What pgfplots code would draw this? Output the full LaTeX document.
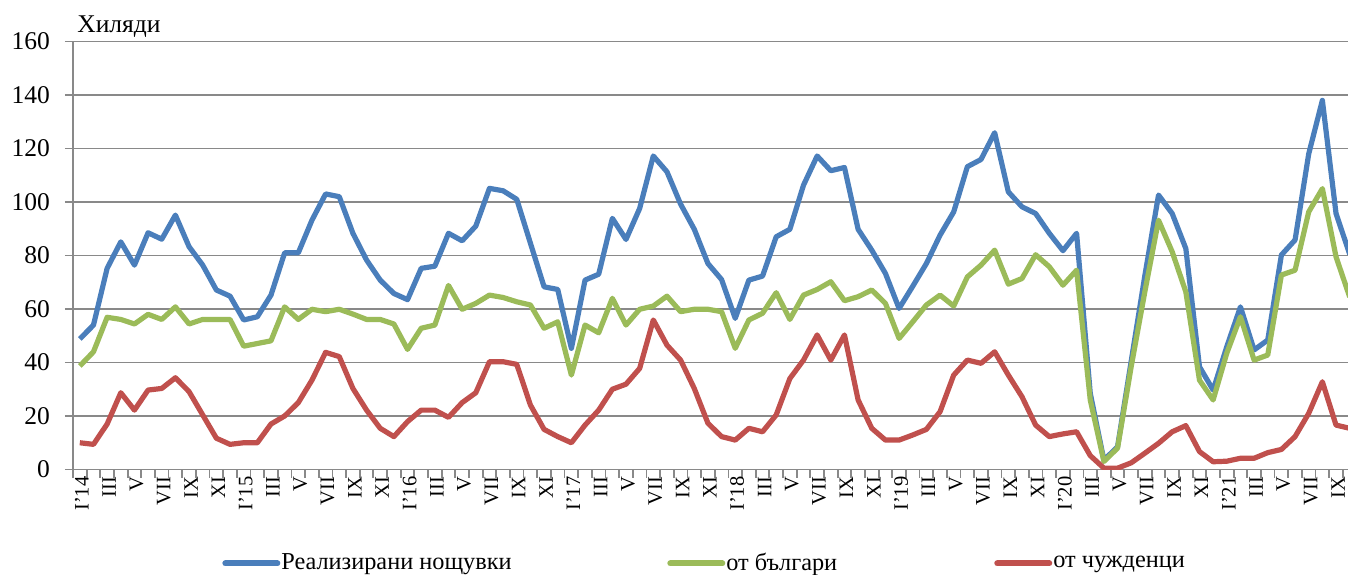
\documentclass[border=0pt]{standalone}
\usepackage{fontspec}
\setmainfont{Liberation Serif}
\usepackage{pgfplots}
\usepackage{pgfplotstable}
\pgfplotsset{compat=1.18}
\definecolor{cblue}{HTML}{4A7EBB}
\definecolor{cgreen}{HTML}{9BBB59}
\definecolor{cred}{HTML}{C0504D}
\definecolor{gridgray}{HTML}{898989}

\pgfplotstableread{
i total bg foreign
0 48.8 38.7 10
1 54 44 9.4
2 75.2 56.9 17
3 85.1 56.1 28.7
4 76.4 54.4 22.2
5 88.5 58 29.7
6 86.1 56.1 30.3
7 95.1 60.8 34.3
8 83.3 54.4 29.1
9 76.4 56.1 20.4
10 67.1 56.1 11.7
11 64.8 56.1 9.4
12 55.9 46.1 10
13 57.1 47.1 10
14 65.2 48.1 17
15 81 60.8 20
16 81 56.1 25
17 93.2 59.9 33.4
18 103 59 43.8
19 102 59.9 42.2
20 88.3 58.1 30.3
21 78.3 56.1 22.2
22 70.8 56.1 15.4
23 65.8 54.4 12.3
24 63.5 44.9 17.9
25 75.2 52.8 22.2
26 76 54 22.2
27 88.3 68.8 19.5
28 85.5 59.9 25
29 91 62.1 28.7
30 105.1 65.2 40.3
31 104.2 64.3 40.3
32 101 62.7 39.3
33 84.6 61.5 24.1
34 68.3 52.8 15
35 67.3 55.2 12.3
36 45.3 35.3 10
37 70.8 54 16.6
38 73 51.1 22.2
39 93.9 64 30
40 86 54 31.9
41 97.6 59.9 37.8
42 117.2 61.1 55.9
43 111.3 64.8 46.5
44 99.2 59 40.9
45 89.8 59.9 30.3
46 77 59.9 17.3
47 71 59 12.3
48 56.5 45.3 11
49 70.8 55.9 15.4
50 72.3 58.4 14.1
51 87 66.1 20.4
52 89.8 56.1 34
53 106.3 65.2 40.9
54 117.2 67.3 50.3
55 111.7 70.2 40.9
56 112.9 63.1 50.3
57 89.8 64.6 26
58 82 67.1 15.4
59 73.3 62.1 11
60 60.2 49 11
61 68.5 55.2 12.9
62 77 61.5 15
63 87.6 65.2 21.6
64 96.3 61.1 35.3
65 113.2 72 40.9
66 115.9 76.4 39.7
67 125.9 82 44
68 103.8 69.3 35.3
69 98.2 71.4 27.2
70 95.7 80.3 16.6
71 88.3 75.8 12.3
72 81.8 68.9 13.3
73 88.3 74.5 14.1
74 28.5 26 5.2
75 3.5 3 0.5
76 8.5 8 0.5
77 40.5 38.5 2.5
78 72.5 66.5 6.1
79 102.6 93.2 9.8
80 95.7 81.4 14.1
81 82.6 66.4 16.4
82 38.4 33.4 6.7
83 29.7 26 2.9
84 45.9 43.5 3.1
85 60.8 57.1 4.2
86 44.7 40.9 4.2
87 48.4 42.8 6.3
88 80.2 72.7 7.5
89 85.8 74.5 12.3
90 118 96.3 21
91 138 105 32.8
92 95.7 79.5 16.6
93 80.5 64.5 15.4
}\datatable

\begin{document}
\begin{tikzpicture}
\useasboundingbox (-36.5bp,-52.75bp) rectangle (637.5bp,234.75bp);
\begin{axis}[
  at={(0,0)}, anchor=south west,
  scale only axis, width=637.65bp, height=214bp,
  clip mode=individual,
  xmin=-0.5, xmax=92.9, ymin=0, ymax=160,
  axis x line*=bottom, axis y line*=left,
  axis line style={color=gridgray, line width=0.9bp},
  ytick={0,20,...,160},
  ymajorgrids,
  major grid style={color=gridgray, line width=0.9bp},
  tick align=outside,
  major tick length=4bp,
  minor tick length=3.5bp,
  tick style={color=gridgray, line width=0.9bp},
  xtick={-0.5,0.5,...,92.5},
  xticklabels={},
  extra x ticks={0,2,...,92},
  extra x tick labels={I'14,III,V,VII,IX,XI,I'15,III,V,VII,IX,XI,I'16,III,V,VII,IX,XI,I'17,III,V,VII,IX,XI,I'18,III,V,VII,IX,XI,I'19,III,V,VII,IX,XI,I'20,III,V,VII,IX,XI,I'21,III,V,VII,IX},
  extra x tick style={major tick length=0pt, grid=none},
  /pgf/number format/assume math mode=true,
  yticklabel style={font=\fontsize{12.8}{14}\selectfont, xshift=-4bp},
  xticklabel style={rotate=90, anchor=east, font=\fontsize{10.3}{11}\selectfont, yshift=-1bp},
  legend columns=3,
  legend style={at={(axis description cs:0.1171,-0.2195)}, anchor=west, draw=none, fill=none,
    inner sep=0pt, outer sep=0pt,
    font=\fontsize{12.2}{14}\selectfont,
    /tikz/every even column/.append style={column sep=0bp},
    /tikz/every odd column/.append style={column sep=-1.5bp}},
  legend image code/.code={\draw[#1, line width=3bp, line cap=round] (0bp,0bp) -- (26bp,0bp);},
  every axis plot/.append style={line width=2.6bp, line join=round},
]
\addplot[cblue, no marks] table[x=i, y=total] {\datatable};
\addlegendentry{\makebox[191bp][l]{Реализирани нощувки}}
\addplot[cgreen, no marks] table[x=i, y=bg] {\datatable};
\addlegendentry{\makebox[132bp][l]{от българи}}
\addplot[cred, no marks] table[x=i, y=foreign] {\datatable};
\addlegendentry{от чужденци}
\node[anchor=base west, font=\fontsize{12.8}{14}\selectfont, inner sep=0pt] at ([xshift=2bp, yshift=4.25bp]rel axis cs:0,1) {Хиляди};
\end{axis}
\end{tikzpicture}
\end{document}
